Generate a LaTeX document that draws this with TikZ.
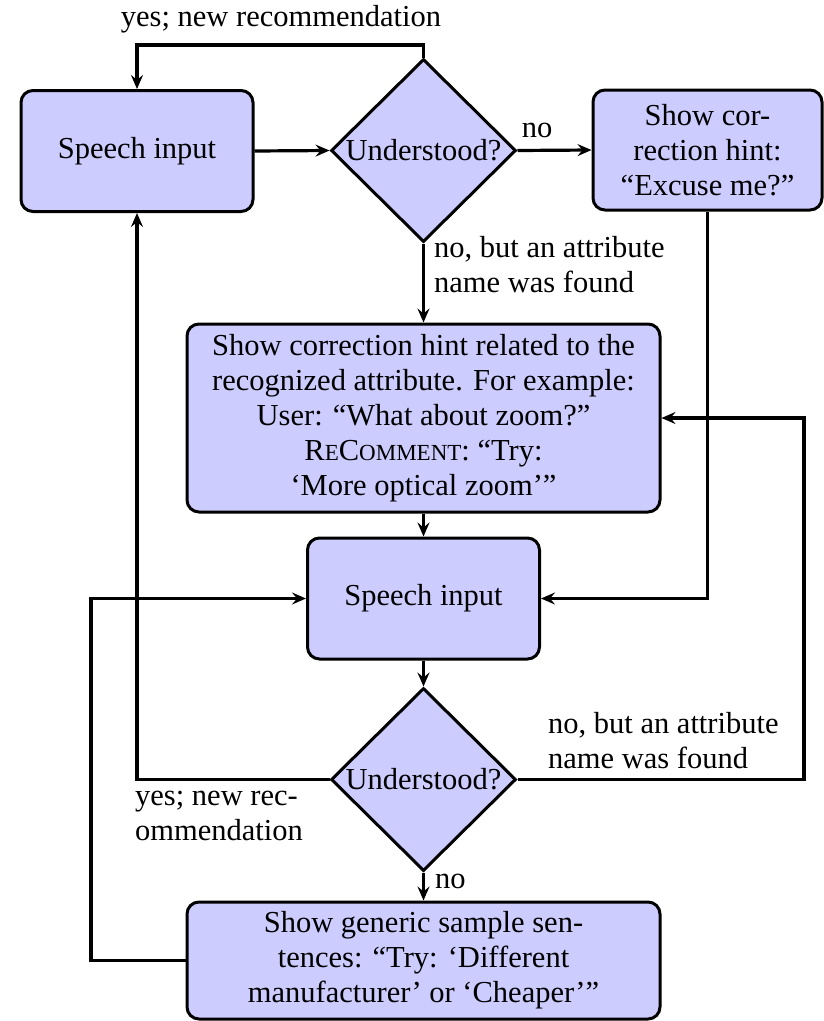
\documentclass[tikz,border=0pt]{standalone}
\usepackage{fontspec}
\setmainfont{Liberation Serif}
\usetikzlibrary{shapes.geometric,arrows.meta}
\newcommand\smallcapsfake[1]{{\fontsize{23}{35}\selectfont #1}}
\begin{document}
\begin{tikzpicture}[x=1pt,y=-1pt,
  font=\fontsize{30.5}{35}\selectfont,
  flowbox/.style={draw, line width=3pt, rounded corners=12pt, fill=blue!20,
    align=center, inner sep=0pt},
  decision/.style={draw, line width=3pt, diamond, fill=blue!20, inner sep=0pt,
    minimum width=185pt, minimum height=183pt},
  flow/.style={line width=3.2pt, -{Stealth[length=14pt,width=12pt,inset=5pt]}},
  note/.style={align=left, inner sep=0pt}]
  \useasboundingbox (0,0) rectangle (823,1021);

  % boxes and decisions
  \node[flowbox, minimum width=232pt, minimum height=121pt] (in1) at (137,151) {Speech input};
  \node[decision, label={[name=q1text]center:Understood?}] (q1) at (423.5,150.5) {};
  \node[flowbox, minimum width=229pt, minimum height=120pt] (hint1) at (707.5,150)
    {Show cor-\\rection hint:\\“Excuse me?”};
  \node[flowbox, minimum width=473pt, minimum height=188pt] (hint2) at (423.5,418)
    {Show correction hint related to the\\recognized attribute. For example:\\User: “What about zoom?”\\R\smallcapsfake{E}C\smallcapsfake{OMMENT}: “Try:\\‘More optical zoom’”};
  \node[flowbox, minimum width=232pt, minimum height=121pt] (in2) at (423.5,598.5) {Speech input};
  \node[decision, label={[name=q2text]center:Understood?}] (q2) at (423.5,779.5) {};
  \node[flowbox, minimum width=473pt, minimum height=117pt] (generic) at (423.5,960.5)
    {Show generic sample sen-\\tences: “Try: ‘Different\\manufacturer’ or ‘Cheaper’”};

  % bend points of the loops
  \coordinate (topbend) at (423.5,45);
  \coordinate (rightbend) at (804,779.5);
  \coordinate (leftbend) at (137,779.5);
  \coordinate (farleft) at (91,960.5);

  % connectors
  \draw[flow] (q1.north) -- (topbend) -| (in1.north);
  \draw[flow] (in1.east) -- (q1.west);
  \draw[flow] (q1.east) -- (hint1.west);
  \draw[flow] (q1.south) -- (hint2.north);
  \draw[flow] (hint1.south) |- (in2.east);
  \draw[flow] (hint2.south) -- (in2.north);
  \draw[flow] (in2.south) -- (q2.north);
  \draw[flow] (q2.east) -- (rightbend) |- (hint2.east);
  \draw[flow] (q2.west) -- (leftbend) -- (in1.south);
  \draw[flow] (q2.south) -- (generic.north);
  \draw[flow] (generic.west) -- (farleft) |- (in2.west);

  % connector labels
  \node[note] (lyes1) at (281,19) {yes; new recommendation};
  \node[note] (lno1) at (537,130) {no};
  \node[note, anchor=west] (lattr1) at (434,265) {no, but an attribute\\name was found};
  \node[note, anchor=west] (lattr2) at (548,741) {no, but an attribute\\name was found};
  \node[note, anchor=west] (lyes2) at (135,816) {yes; new rec-\\ommendation};
  \node[note, anchor=west] (lno2) at (435,881) {no};
\end{tikzpicture}
\end{document}
